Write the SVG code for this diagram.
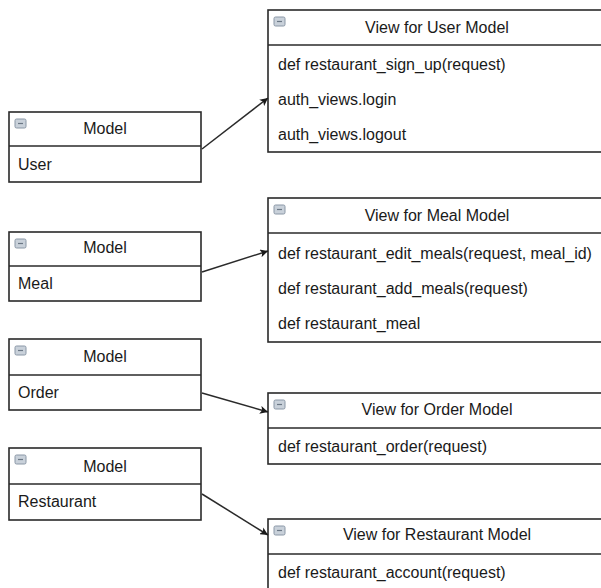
<svg xmlns="http://www.w3.org/2000/svg" width="601" height="588" viewBox="0 0 601 588">
  <defs>
    <style>
      .box { fill: #ffffff; stroke: #2a2a2a; stroke-width: 1.6; }
      .div { stroke: #2a2a2a; stroke-width: 1.6; }
      .ttl { font-family: "Liberation Sans", Arial, sans-serif; font-size: 16px; fill: #1a1a1a; text-anchor: middle; }
      .row { font-family: "Liberation Sans", Arial, sans-serif; font-size: 16px; fill: #1a1a1a; }
      .icon { fill: #c9d1da; stroke: #8a97a6; stroke-width: 1; }
      .dash { stroke: #6b7785; stroke-width: 1.2; }
      .edge { fill: none; stroke: #2a2a2a; stroke-width: 1.5; marker-end: url(#arrow); }
    </style>
    <marker id="arrow" viewBox="0 0 10 10" refX="10" refY="5" markerWidth="8" markerHeight="8" markerUnits="userSpaceOnUse" orient="auto">
      <path d="M0,0 L10,5 L0,10 L2.5,5 z" fill="#1a1a1a"/>
    </marker>
    <g id="toggle">
      <rect class="icon" x="0" y="0" width="11" height="9" rx="1.5"/>
      <line class="dash" x1="3" y1="4.5" x2="8" y2="4.5"/>
    </g>
  </defs>

  <rect width="601" height="588" fill="#ffffff"/>

  <!-- model classes -->
  <g id="model-user">
    <rect class="box" x="9" y="112" width="192" height="70"/>
    <line class="div" x1="9" y1="146" x2="201" y2="146"/>
    <use href="#toggle" x="15" y="119"/>
    <text class="ttl" x="105" y="134">Model</text>
    <text class="row" x="18" y="170">User</text>
  </g>
  <g id="model-meal">
    <rect class="box" x="9" y="232" width="192" height="69"/>
    <line class="div" x1="9" y1="266" x2="201" y2="266"/>
    <use href="#toggle" x="15" y="239"/>
    <text class="ttl" x="105" y="253">Model</text>
    <text class="row" x="18" y="289">Meal</text>
  </g>
  <g id="model-order">
    <rect class="box" x="9" y="339" width="192" height="71"/>
    <line class="div" x1="9" y1="375" x2="201" y2="375"/>
    <use href="#toggle" x="15" y="346"/>
    <text class="ttl" x="105" y="362">Model</text>
    <text class="row" x="18" y="398">Order</text>
  </g>
  <g id="model-restaurant">
    <rect class="box" x="9" y="448" width="192" height="72"/>
    <line class="div" x1="9" y1="484" x2="201" y2="484"/>
    <use href="#toggle" x="15" y="455"/>
    <text class="ttl" x="105" y="472">Model</text>
    <text class="row" x="18" y="507">Restaurant</text>
  </g>

  <!-- view classes -->
  <g id="view-user">
    <rect class="box" x="268" y="10" width="340" height="142"/>
    <line class="div" x1="268" y1="45" x2="608" y2="45"/>
    <use href="#toggle" x="274" y="17"/>
    <text class="ttl" x="437" y="33">View for User Model</text>
    <text class="row" x="278" y="70">def restaurant_sign_up(request)</text>
    <text class="row" x="278" y="105">auth_views.login</text>
    <text class="row" x="278" y="140">auth_views.logout</text>
  </g>
  <g id="view-meal">
    <rect class="box" x="268" y="198" width="340" height="144"/>
    <line class="div" x1="268" y1="233" x2="608" y2="233"/>
    <use href="#toggle" x="274" y="205"/>
    <text class="ttl" x="437" y="221">View for Meal Model</text>
    <text class="row" x="278" y="259">def restaurant_edit_meals(request, meal_id)</text>
    <text class="row" x="278" y="294">def restaurant_add_meals(request)</text>
    <text class="row" x="278" y="329">def restaurant_meal</text>
  </g>
  <g id="view-order">
    <rect class="box" x="268" y="393" width="340" height="71"/>
    <line class="div" x1="268" y1="428" x2="608" y2="428"/>
    <use href="#toggle" x="274" y="400"/>
    <text class="ttl" x="437" y="415">View for Order Model</text>
    <text class="row" x="278" y="452">def restaurant_order(request)</text>
  </g>
  <g id="view-restaurant">
    <rect class="box" x="268" y="519" width="340" height="80"/>
    <line class="div" x1="268" y1="554" x2="608" y2="554"/>
    <use href="#toggle" x="274" y="526"/>
    <text class="ttl" x="437" y="540">View for Restaurant Model</text>
    <text class="row" x="278" y="578">def restaurant_account(request)</text>
  </g>

  <!-- connectors -->
  <g id="connectors">
    <line class="edge" x1="202" y1="149" x2="268" y2="98"/>
    <line class="edge" x1="202" y1="272" x2="268" y2="251"/>
    <line class="edge" x1="202" y1="393" x2="268" y2="412"/>
    <line class="edge" x1="202" y1="494" x2="268" y2="535"/>
  </g>
</svg>
